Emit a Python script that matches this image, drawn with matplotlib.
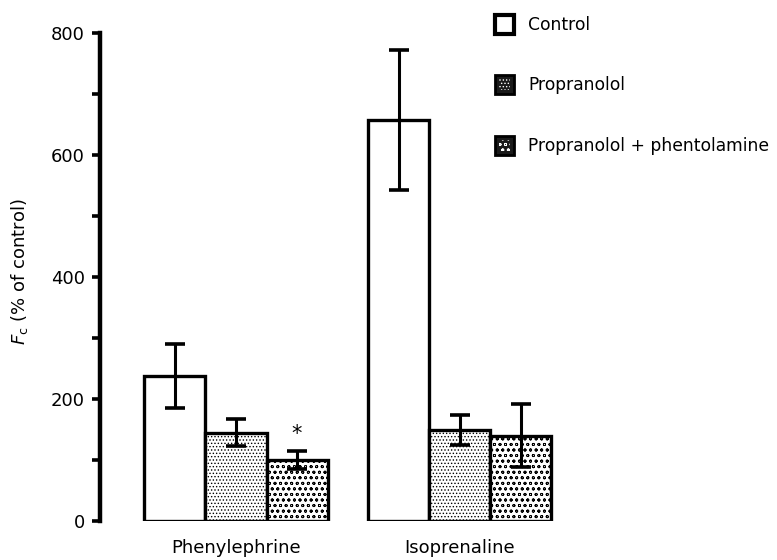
import matplotlib
matplotlib.use("Agg")
import matplotlib.pyplot as plt
import numpy as np
from matplotlib.patches import Rectangle

plt.rcParams['font.family'] = ['DejaVu Sans']
plt.rcParams['mathtext.fontset'] = 'dejavusans'
plt.rcParams['hatch.linewidth'] = 0.6

# ---- data ----
groups = ["Phenylephrine", "Isoprenaline"]
series = ["Control", "Propranolol", "Propranolol + phentolamine"]
control = [238, 657]
control_err = [52, 115]
propranolol = [145, 149]
propranolol_err = [22, 24]
prop_phent = [100, 140]
prop_phent_err = [14, 52]
yticks = [0, 200, 400, 600, 800]

FS = 13
W, H = 777, 560
fig = plt.figure(figsize=(W / 100, H / 100), dpi=100)
ax = fig.add_axes([100 / W, (H - 521) / H, (760 - 100) / W, 488 / H])

group_gap = 3.67
xc = np.arange(len(groups)) * group_gap
bw = 1.0
vals = [control, propranolol, prop_phent]
errs = [control_err, propranolol_err, prop_phent_err]
hatches = [None, '.....', 'ooo']
for i, (v, e, h) in enumerate(zip(vals, errs, hatches)):
    x = xc + (i - 1) * bw
    ax.bar(x, v, width=bw, facecolor='white', edgecolor='black', linewidth=2.4,
           hatch=h, zorder=2)
    ax.errorbar(x, v, yerr=e, fmt='none', ecolor='black', elinewidth=2.2,
                capsize=7.5, capthick=2.6, zorder=3)

# significance marker
ax.text(xc[0] + bw, prop_phent[0] + prop_phent_err[0] + 12, '*', ha='center', va='bottom',
        fontsize=15)

ax.set_xlim(-136 / 61, (760 - 236) / 61)
ax.set_ylim(0, 800)
ax.set_yticks(yticks)
ax.set_yticks([100, 300, 500, 700], minor=True)
ax.tick_params(axis='y', which='both', length=6, width=2.6, labelsize=FS, pad=5)
ax.set_xticks(xc)
ax.set_xticklabels(groups, fontsize=FS)
ax.tick_params(axis='x', length=0, pad=13)
for s in ['top', 'right', 'bottom']:
    ax.spines[s].set_visible(False)
ax.spines['left'].set_linewidth(3.2)
ax.spines['left'].set_bounds(0, 800)

fig.text(20 / W, 1 - 272 / H, r'$F_{\rm c}$ (% of control)', rotation=90,
         ha='center', va='center', fontsize=FS)

# legend drawn manually
leg_y = [25, 85, 146]
for label, yy, h in zip(series, leg_y, hatches):
    x0, y0, s = 495, yy - 10, 19
    if h is None:
        r = Rectangle((x0 / W, 1 - (y0 + s) / H), s / W, s / H, transform=fig.transFigure,
                      facecolor='white', edgecolor='black', linewidth=3)
        fig.add_artist(r)
    else:
        r = Rectangle((x0 / W, 1 - (y0 + s) / H), s / W, s / H, transform=fig.transFigure,
                      facecolor='#1a1a1a', edgecolor='black', linewidth=2)
        fig.add_artist(r)
        r2 = Rectangle(((x0 + 4) / W, 1 - (y0 + s - 4) / H), (s - 8) / W, (s - 8) / H,
                       transform=fig.transFigure, facecolor='none', edgecolor='white',
                       linewidth=0, hatch=h)
        fig.add_artist(r2)
    fig.text(528 / W, 1 - yy / H, label, ha='left', va='center', fontsize=12.3)

fig.savefig('out.png', dpi=100, facecolor='white')
